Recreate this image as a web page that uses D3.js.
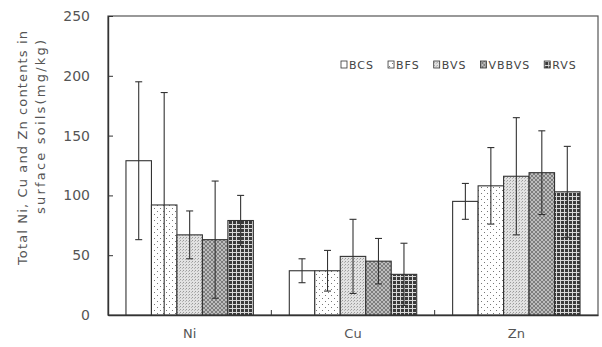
<!DOCTYPE html>
<html>
<head>
<meta charset="utf-8">
<script src="https://cdn.jsdelivr.net/npm/d3@7"></script>
<style>
  body { margin: 0; background: #fff; }
  svg { display: block; font-family: "DejaVu Sans", sans-serif; }
</style>
</head>
<body>
<div id="chart"></div>
<script>
// ----------------------------
// Data
// ----------------------------
const categories = ["Ni", "Cu", "Zn"];
const seriesNames = ["BCS", "BFS", "BVS", "VBBVS", "RVS"];

// mean contents, one array per series, in category order
const bcsValues   = [129, 37, 95];
const bfsValues   = [92, 37, 108];
const bvsValues   = [67, 49, 116];
const vbbvsValues = [63, 45, 119];
const rvsValues   = [79, 34, 103];

// error (standard deviation) per series
const bcsErrors   = [66, 10, 15];
const bfsErrors   = [94, 17, 32];
const bvsErrors   = [20, 31, 49];
const vbbvsErrors = [49, 19, 35];
const rvsErrors   = [21, 26, 38];

const yTicks = [0, 50, 100, 150, 200, 250];

const allValues = [bcsValues, bfsValues, bvsValues, vbbvsValues, rvsValues];
const allErrors = [bcsErrors, bfsErrors, bvsErrors, vbbvsErrors, rvsErrors];

// ----------------------------
// Chart
// ----------------------------
const width = 602;
const height = 347;
const marginTop = 16;
const marginRight = 4;
const marginBottom = 32;
const marginLeft = 108;

const rows = [];
categories.forEach((cat, i) => {
    seriesNames.forEach((s, j) => {
        rows.push({ category: cat, series: s, value: allValues[j][i], error: allErrors[j][i] });
    });
});

const x = d3.scaleBand()
    .domain(categories)
    .range([marginLeft, width - marginRight])
    .paddingInner(0.22)
    .paddingOuter(0.11);

const x1 = d3.scaleBand()
    .domain(seriesNames)
    .range([0, x.bandwidth()]);

const y = d3.scaleLinear()
    .domain([0, 250])
    .range([height - marginBottom, marginTop]);

const svg = d3.create("svg")
    .attr("width", width)
    .attr("height", height)
    .attr("viewBox", [0, 0, width, height]);

// attach early so text can be measured
document.getElementById("chart").appendChild(svg.node());

// Fill patterns for each series
const defs = svg.append("defs");

// BFS: sparse dots on white
const pBfs = defs.append("pattern").attr("id", "p-BFS")
    .attr("patternUnits", "userSpaceOnUse").attr("width", 6).attr("height", 6);
pBfs.append("rect").attr("width", 6).attr("height", 6).attr("fill", "#fff");
pBfs.append("rect").attr("x", 1).attr("y", 1).attr("width", 1).attr("height", 1).attr("fill", "#777");
pBfs.append("rect").attr("x", 4).attr("y", 4).attr("width", 1).attr("height", 1).attr("fill", "#777");

// BVS: fine light-grey stipple
const pBvs = defs.append("pattern").attr("id", "p-BVS")
    .attr("patternUnits", "userSpaceOnUse").attr("width", 3).attr("height", 3);
pBvs.append("rect").attr("width", 3).attr("height", 3).attr("fill", "#e2e2e2");
pBvs.append("rect").attr("x", 0).attr("y", 0).attr("width", 1).attr("height", 1).attr("fill", "#9a9a9a");
pBvs.append("rect").attr("x", 2).attr("y", 1).attr("width", 1).attr("height", 1).attr("fill", "#b5b5b5");

// VBBVS: medium grey crosshatch
const pVb = defs.append("pattern").attr("id", "p-VBBVS")
    .attr("patternUnits", "userSpaceOnUse").attr("width", 4).attr("height", 4);
pVb.append("rect").attr("width", 4).attr("height", 4).attr("fill", "#bdbdbd");
pVb.append("path").attr("d", "M0,0L4,4M4,0L0,4").attr("stroke", "#777").attr("stroke-width", 0.9);

// RVS: dark checked grid
const pRvs = defs.append("pattern").attr("id", "p-RVS")
    .attr("patternUnits", "userSpaceOnUse").attr("width", 4).attr("height", 4);
pRvs.append("rect").attr("width", 4).attr("height", 4).attr("fill", "#3a3a3a");
pRvs.append("rect").attr("x", 0).attr("y", 0).attr("width", 4).attr("height", 1).attr("fill", "#d8d8d8");
pRvs.append("rect").attr("x", 0).attr("y", 0).attr("width", 1).attr("height", 4).attr("fill", "#d8d8d8");

const fillFor = s => s === "BCS" ? "#fff" : `url(#p-${s})`;

// Plot frame
svg.append("rect")
    .attr("x", marginLeft)
    .attr("y", marginTop)
    .attr("width", width - marginRight - marginLeft)
    .attr("height", y(0) - marginTop)
    .attr("fill", "none")
    .attr("stroke", "#555")
    .attr("stroke-width", 1.2);

// Bars
svg.append("g")
    .selectAll("rect")
    .data(rows)
    .join("rect")
        .attr("x", d => x(d.category) + x1(d.series))
        .attr("y", d => y(d.value))
        .attr("width", x1.bandwidth())
        .attr("height", d => y(0) - y(d.value))
        .attr("fill", d => fillFor(d.series))
        .attr("stroke", "#333")
        .attr("stroke-width", 1.1);

// Error bars
const err = svg.append("g")
    .attr("stroke", "#333")
    .attr("stroke-width", 1.1);

const cx = d => x(d.category) + x1(d.series) + x1.bandwidth() / 2;

err.selectAll("line.stem")
    .data(rows)
    .join("line")
        .attr("class", "stem")
        .attr("x1", cx).attr("x2", cx)
        .attr("y1", d => y(d.value + d.error))
        .attr("y2", d => y(Math.max(0, d.value - d.error)));

err.selectAll("line.capTop")
    .data(rows)
    .join("line")
        .attr("class", "capTop")
        .attr("x1", d => cx(d) - 3.5).attr("x2", d => cx(d) + 3.5)
        .attr("y1", d => y(d.value + d.error))
        .attr("y2", d => y(d.value + d.error));

err.selectAll("line.capBot")
    .data(rows.filter(d => d.value - d.error > 0))
    .join("line")
        .attr("class", "capBot")
        .attr("x1", d => cx(d) - 3.5).attr("x2", d => cx(d) + 3.5)
        .attr("y1", d => y(d.value - d.error))
        .attr("y2", d => y(d.value - d.error));

// Vertical axis
const yAxis = svg.append("g")
    .attr("transform", `translate(${marginLeft},0)`)
    .call(d3.axisLeft(y).tickValues(yTicks).tickSize(-5).tickPadding(18).tickSizeOuter(0));
yAxis.select(".domain").attr("stroke", "#333").attr("stroke-width", 1.4);
yAxis.selectAll(".tick line").attr("stroke", "#333");
yAxis.selectAll(".tick text")
    .attr("font-size", 14)
    .attr("font-family", "DejaVu Sans, sans-serif")
    .attr("fill", "#555");

// Horizontal axis
const xAxis = svg.append("g")
    .attr("transform", `translate(0,${y(0)})`)
    .call(d3.axisBottom(x).tickSize(0).tickPadding(14));
xAxis.select(".domain").attr("stroke", "#333").attr("stroke-width", 1.4);
xAxis.selectAll(".tick text")
    .attr("font-size", 13)
    .attr("font-family", "DejaVu Sans, sans-serif")
    .attr("fill", "#555");

// category separator ticks (inside)
const boundaries = d3.range(1, categories.length).map(i => x(categories[i]) - x.step() * x.paddingInner() / 2);
svg.append("g")
    .selectAll("line")
    .data(boundaries)
    .join("line")
        .attr("x1", d => d).attr("x2", d => d)
        .attr("y1", y(0)).attr("y2", y(0) - 5)
        .attr("stroke", "#333");

// Y axis title (two lines)
const yTitle = ["Total Ni, Cu and Zn contents in", "surface soils(mg/kg)"];
const yTitleX = [22, 40];
const yTitleY = [148, 127];
const yTitleLen = [234, 174];
svg.append("g")
    .selectAll("text")
    .data(yTitle)
    .join("text")
        .attr("transform", (d, i) => `translate(${yTitleX[i]},${yTitleY[i]}) rotate(-90)`)
        .attr("text-anchor", "middle")
        .attr("dominant-baseline", "central")
        .attr("font-size", 13)
        .attr("textLength", (d, i) => yTitleLen[i])
        .attr("lengthAdjust", "spacing")
        .attr("fill", "#555")
        .text(d => d);

// Legend
const legend = svg.append("g")
    .attr("transform", "translate(341,65)");
let lx = 0;
seriesNames.forEach(s => {
    const item = legend.append("g").attr("transform", `translate(${lx},0)`);
    item.append("rect")
        .attr("x", 0).attr("y", -4)
        .attr("width", 6).attr("height", 7)
        .attr("fill", fillFor(s))
        .attr("stroke", "#333")
        .attr("stroke-width", 0.8);
    const t = item.append("text")
        .attr("x", 8)
        .attr("y", 0)
        .attr("dominant-baseline", "central")
        .attr("font-size", 11)
        .attr("letter-spacing", 1)
        .attr("fill", "#444")
        .text(s);
    lx += 8 + t.node().getComputedTextLength() + 14;
});
</script>
</body>
</html>
